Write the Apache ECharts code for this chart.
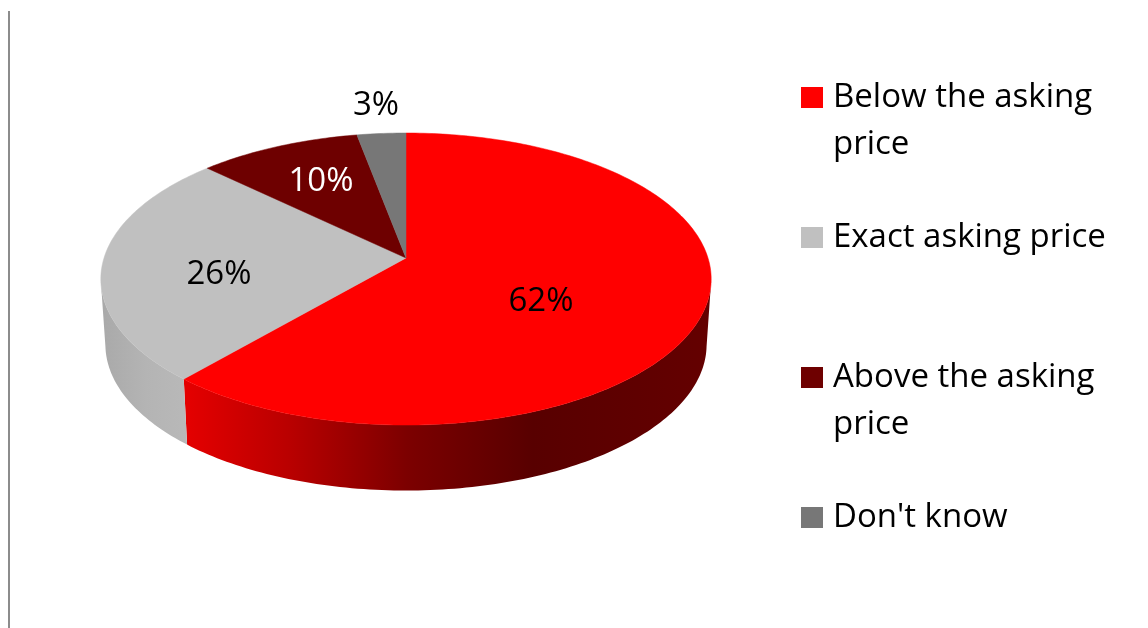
<!DOCTYPE html>
<html>
<head>
<meta charset="utf-8">
<style>html,body{margin:0;padding:0;background:#fff}#chart{width:1148px;height:628px}</style>
<script src="https://cdn.jsdelivr.net/npm/echarts@6/dist/echarts.min.js"></script>
</head>
<body>
<div id="chart"></div>
<script>
// Answers and their shares in percent; the rounded shares add up to 101.
const categories = ['Below the asking price', 'Exact asking price', 'Above the asking price', "Don't know"];
const shares = [62, 26, 10, 3];

// How each legend entry breaks over lines.
const legendLines = [['Below the asking', 'price'], ['Exact asking price'], ['Above the asking', 'price'], ["Don't know"]];

const topColors = ['#ff0000', '#c0c0c0', '#6e0000', '#777777'];
const labelColors = ['#000000', '#000000', '#ffffff', '#000000'];
const labelAnchors = [[541, 302], [219, 275], [321, 182], [376, 106]];
const legendCenters = [95, 235, 375, 515];

const FONT = '"Open Sans", Lato, sans-serif';
const FONT_SIZE = 33;
const LINE_HEIGHT = 47;
const TEXT_DROP = 5;

// Tilted disc: a circle seen in perspective, with its rim extruded downwards.
const disc = { cx: 406, cy: 258, rx: 302, ry: 143, k: 0.144, depth: 65.5, shrink: 0.985 };

function project(deg) {
  const a = deg * Math.PI / 180;
  const u = Math.sin(a), v = -Math.cos(a), w = 1 - disc.k * v;
  return [disc.cx + disc.rx * u / w, disc.cy + disc.ry * v / w];
}
function lowerRim(p) {
  return [disc.cx + (p[0] - disc.cx) * disc.shrink, p[1] + disc.depth];
}
function arc(from, to) {
  const pts = [], n = Math.max(2, Math.ceil(to - from));
  for (let i = 0; i <= n; i++) pts.push(from + (to - from) * i / n);
  return pts;
}

// Side walls are shaded across the whole disc, not per slice.
function globalGradient(x, x2, stops) {
  return { type: 'linear', global: true, x, y: 0, x2, y2: 0,
    colorStops: stops.map(s => ({ offset: s[0], color: s[1] })) };
}
const sideFills = [
  globalGradient(187, 711, [[0, '#e40000'], [0.2, '#b80000'], [0.42, '#7c0000'], [0.66, '#580000'], [1, '#640000']]),
  globalGradient(101, 190, [[0, '#a9a9a9'], [0.5, '#b4b4b4'], [1, '#b9b9b9']]),
  null,
  null
];

const total = shares.reduce((a, b) => a + b, 0);
let running = 0;
const spans = shares.map(s => {
  const start = running / total * 360;
  running += s;
  return [start, running / total * 360];
});

function renderSlice(params, api) {
  const i = params.seriesIndex;
  const start = api.value(0), end = api.value(1);
  const angles = arc(start, end);
  const rim = angles.map(project);
  const children = [];

  // The wall runs between the two points where the rim is widest on screen.
  const front = angles.filter(d => -Math.cos(d * Math.PI / 180) >= disc.k).map(project);
  if (sideFills[i] && front.length > 1) {
    children.push({
      type: 'polygon', z2: 1,
      shape: { points: front.concat(front.map(lowerRim).reverse()) },
      style: { fill: sideFills[i], stroke: null }
    });
  }
  children.push({
    type: 'polygon', z2: 5,
    shape: { points: [[disc.cx, disc.cy]].concat(rim) },
    style: { fill: topColors[i], stroke: topColors[i], lineWidth: 0.5 }
  });
  children.push({
    type: 'text', z2: 10,
    x: labelAnchors[i][0], y: labelAnchors[i][1],
    style: { text: shares[i] + '%', fill: labelColors[i], font: FONT_SIZE + 'px ' + FONT,
      align: 'center', verticalAlign: 'middle' }
  });
  return { type: 'group', children };
}

const option = {
  animation: false,
  backgroundColor: '#ffffff',
  graphic: [
    { type: 'line', shape: { x1: 9, y1: 11, x2: 9, y2: 628 }, style: { stroke: '#8c8c8c', lineWidth: 2 } }
  ],
  legend: categories.map((name, i) => ({
    data: [name],
    orient: 'vertical',
    left: 801,
    // A two-line entry gets an empty first line so that its first text line sits beside the swatch.
    top: legendCenters[i] - (legendLines[i].length > 1 ? 3 : 1) * LINE_HEIGHT / 2,
    padding: 0,
    icon: 'rect',
    itemWidth: 22,
    itemHeight: 21,
    itemGap: 0,
    selectedMode: false,
    formatter: () => (legendLines[i].length > 1 ? '\n' : '') + legendLines[i].join('\n'),
    textStyle: { fontFamily: FONT, fontSize: FONT_SIZE, lineHeight: LINE_HEIGHT, color: '#000000', padding: [TEXT_DROP, 0, 0, 5] }
  })),
  series: categories.map((name, i) => ({
    type: 'custom',
    name,
    coordinateSystem: 'none',
    itemStyle: { color: topColors[i] },
    renderItem: renderSlice,
    data: [spans[i]],
    silent: true
  }))
};

echarts.init(document.getElementById('chart'), null, { renderer: 'canvas' }).setOption(option);
</script>
</body>
</html>
